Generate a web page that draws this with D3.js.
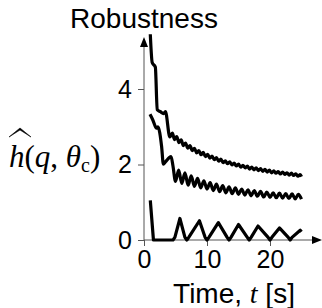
<!DOCTYPE html>
<html><head><meta charset="utf-8">
<script src="https://cdn.jsdelivr.net/npm/d3@7"></script>
<style>
html,body{margin:0;padding:0;background:#fff;}
svg{display:block;}
</style></head>
<body>
<svg id="c" width="322" height="308"></svg>
<script>
// ---- data ----
const xTicks = [0, 10, 20];
const yTicks = [0, 2, 4];
const titleText = "Robustness";
// series 1 (top)
const topT = [1.0,1.3,1.8,2.1,2.6,3.1,3.4,4.1,4.5,4.85,5.2,5.55,5.9,6.25,6.6,6.95,7.3,7.65,8.0,8.35,8.7,9.05,9.4,9.75,10.1,10.45,10.8,11.15,11.5,11.85,12.2,12.55,12.9,13.25,13.6,13.95,14.3,14.65,15.0,15.35,15.7,16.05,16.4,16.75,17.1,17.45,17.8,18.15,18.5,18.85,19.2,19.55,19.9,20.25,20.6,20.95,21.3,21.65,22.0,22.35,22.7,23.05,23.4,23.75,24.1,24.45,24.8,25.0];
const topV = [5.45,4.7,4.58,3.45,3.4,3.35,3.4,2.73,2.83,2.66,2.74,2.58,2.65,2.5,2.57,2.43,2.5,2.37,2.43,2.31,2.37,2.26,2.32,2.21,2.27,2.17,2.22,2.13,2.18,2.09,2.14,2.05,2.1,2.02,2.07,1.99,2.04,1.96,2.01,1.93,1.98,1.91,1.96,1.88,1.93,1.86,1.91,1.84,1.89,1.82,1.87,1.8,1.85,1.78,1.83,1.77,1.81,1.75,1.8,1.74,1.78,1.72,1.77,1.71,1.75,1.69,1.73,1.68];
// series 2 (middle)
const midT = [0.95,1.4,2.0,2.2,2.8,3.07,3.4,4.29,4.6,5.0,5.5,6.0,6.5,7.0,7.5,8.0,8.5,9.0,9.5,10.0,10.5,11.0,11.5,12.0,12.5,13.0,13.5,14.0,14.5,15.0,15.5,16.0,16.5,17.0,17.5,18.0,18.5,19.0,19.5,20.0,20.5,21.0,21.5,22.0,22.5,23.0,23.5,24.0,24.5,25.0];
const midV = [3.33,3.18,2.96,3.0,2.47,2.01,2.07,2.21,1.96,1.55,1.85,1.5,1.78,1.45,1.7,1.42,1.63,1.38,1.57,1.35,1.52,1.31,1.48,1.28,1.44,1.25,1.41,1.23,1.38,1.21,1.35,1.19,1.33,1.17,1.31,1.16,1.29,1.14,1.27,1.13,1.25,1.12,1.24,1.11,1.23,1.1,1.22,1.09,1.21,1.08];
// series 3 (bottom)
const botT = [1.0,1.5,4.3,4.6,4.9,5.7,6.5,6.8,7.1,8.8,9.7,10.0,10.3,11.8,13.2,13.5,13.8,15.0,16.4,16.7,17.0,18.1,19.7,20.0,20.3,21.5,22.9,23.2,23.5,24.8,25.0];
const botV = [1.05,0,0,0,0.07,0.57,0.07,0,0.07,0.51,0.07,0,0.07,0.46,0.07,0,0.07,0.41,0.07,0,0.07,0.37,0.07,0,0.07,0.32,0.07,0,0.07,0.26,0.22];

// ---- layout ----
const svg = d3.select("#c");
const x = d3.scaleLinear().domain([0, 20]).range([144, 270]);
const y = d3.scaleLinear().domain([0, 4]).range([240, 89]);
const axisColor = "#555";
const sans = "Liberation Sans, Arial, Helvetica, sans-serif";
const serif = "Liberation Serif, Times New Roman, serif";

// axes lines
svg.append("line").attr("x1", x(0)).attr("x2", 314).attr("y1", y(0)).attr("y2", y(0))
  .attr("stroke", axisColor).attr("stroke-width", 1);
svg.append("line").attr("x1", x(0)).attr("x2", x(0)).attr("y1", y(0)).attr("y2", 46)
  .attr("stroke", axisColor).attr("stroke-width", 1);
// arrow heads
svg.append("path").attr("d", `M322,${y(0)} L312,${y(0)-4} L312,${y(0)+4} Z`).attr("fill", "#000");
svg.append("path").attr("d", `M${x(0)},37 L${x(0)-4},47 L${x(0)+4},47 Z`).attr("fill", "#000");

const xAxis = d3.axisBottom(x).tickValues(xTicks).tickSize(6).tickPadding(4).tickFormat(d3.format("d"));
const gx = svg.append("g").attr("transform", `translate(0,${y(0)})`).call(xAxis);
gx.select(".domain").remove();
gx.selectAll("line").attr("stroke", axisColor);
gx.selectAll("text").attr("font-family", sans).attr("font-size", 25).attr("fill", "#000");

const yAxis = d3.axisLeft(y).tickValues(yTicks).tickSize(6).tickPadding(6).tickFormat(d3.format("d"));
const gy = svg.append("g").attr("transform", `translate(${x(0)},0)`).call(yAxis);
gy.select(".domain").remove();
gy.selectAll("line").attr("stroke", axisColor);
gy.selectAll("text").attr("font-family", sans).attr("font-size", 25).attr("fill", "#000");

// lines
const smooth = d3.line().curve(d3.curveMonotoneX).x(d => x(d[0])).y(d => y(d[1]));
const straight = d3.line().x(d => x(d[0])).y(d => y(d[1]));
const series = [
  {pts: d3.zip(topT, topV), gen: smooth},
  {pts: d3.zip(midT, midV), gen: smooth},
  {pts: d3.zip(botT, botV), gen: straight}
];
svg.selectAll("path.series").data(series).enter().append("path")
  .attr("class", "series").attr("d", d => d.gen(d.pts))
  .attr("fill", "none").attr("stroke", "#000").attr("stroke-width", 3.2)
  .attr("stroke-linejoin", "round");

// title
svg.append("text").attr("x", 144).attr("y", 28).attr("text-anchor", "middle")
  .attr("font-family", sans).attr("font-size", 28)
  .text(titleText);

// x label
const xl = svg.append("text").attr("x", 234).attr("y", 303).attr("text-anchor", "middle")
  .attr("font-family", sans).attr("font-size", 28);
xl.append("tspan").text("Time, ");
xl.append("tspan").attr("font-family", serif).attr("font-style", "italic").text("t");
xl.append("tspan").text(" [s]");

// y label
const yl = svg.append("text").attr("x", 9).attr("y", 167)
  .attr("font-family", serif).attr("font-size", 31);
yl.append("tspan").attr("font-style", "italic").text("h");
yl.append("tspan").text("(");
yl.append("tspan").attr("font-style", "italic").text("q");
yl.append("tspan").text(", ");
yl.append("tspan").attr("font-style", "italic").text("θ");
yl.append("tspan").attr("font-size", 20).attr("dy", 5).text("c");
yl.append("tspan").attr("dy", -5).text(")");
// wide hat over h
svg.append("path").attr("d", "M9,137 L20,128 L31,137 L20,130 Z").attr("fill", "#000").attr("stroke", "#000").attr("stroke-width", 0.6).attr("stroke-linejoin", "round");
</script>
</body></html>
